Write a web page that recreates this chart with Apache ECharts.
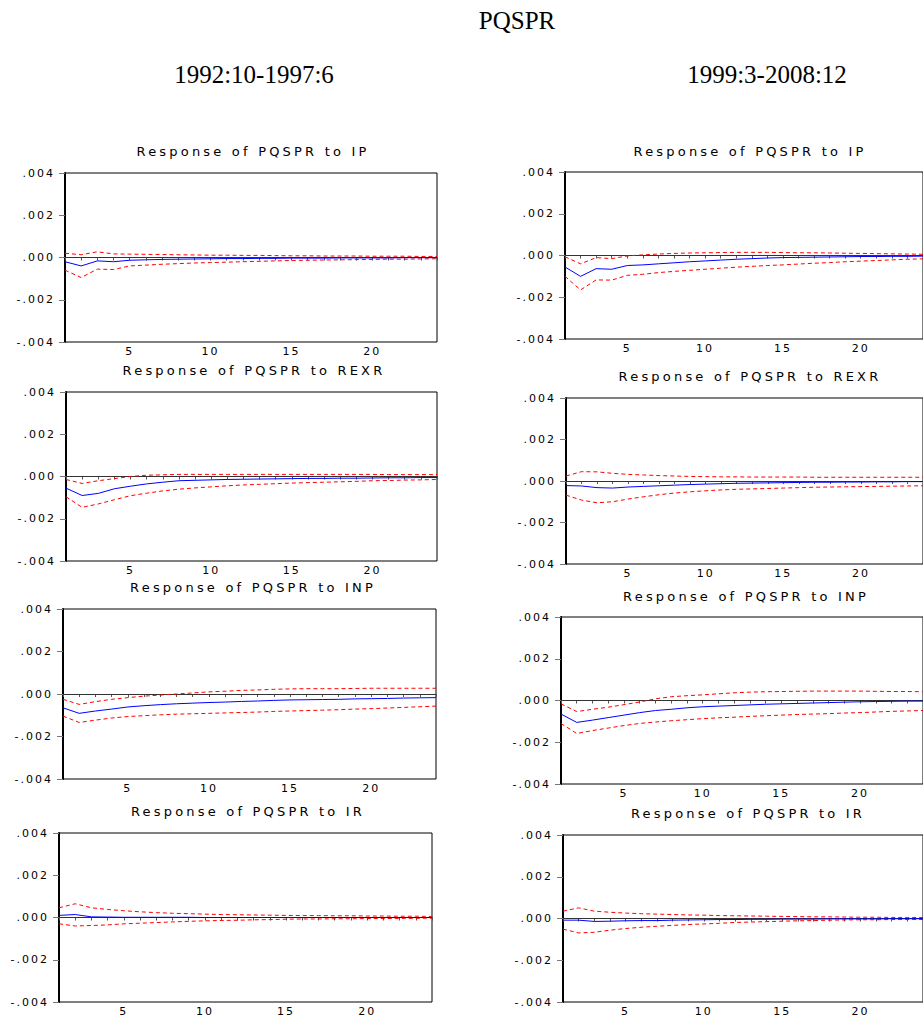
<!DOCTYPE html>
<html><head><meta charset="utf-8">
<script src="https://cdn.jsdelivr.net/npm/echarts@6/dist/echarts.min.js"></script>
<style>
html,body{margin:0;padding:0;background:#fff;overflow:hidden;}
#chart{width:923px;height:1017px;}
#chart text{letter-spacing:2px;}
#chart text[style*="13px"]{letter-spacing:3.2px;}
#chart text[style*="25px"]{letter-spacing:0;}
</style></head><body><div id="chart"></div>
<script>
// ---- data ----
const periods = ['1','2','3','4','5','6','7','8','9','10','11','12','13','14','15','16','17','18','19','20','21','22','23','24'];
const yTicks = [-0.004, -0.002, 0, 0.002, 0.004];
const mainTitle = 'PQSPR';
const sampleLabels = ['1992:10-1997:6', '1999:3-2008:12'];
const panelTitles = ['Response of PQSPR to IP','Response of PQSPR to IP','Response of PQSPR to REXR','Response of PQSPR to REXR','Response of PQSPR to INP','Response of PQSPR to INP','Response of PQSPR to IR','Response of PQSPR to IR'];

// 1992:10-1997:6, IP
const respIP_A = [-0.00020,-0.00040,-0.00016,-0.00020,-0.00013,-0.00011,-0.00009,-0.00008,-0.00007,-0.00006,-0.00005,-0.00005,-0.00004,-0.00004,-0.00003,-0.00003,-0.00003,-0.00002,-0.00002,-0.00002,-0.00002,-0.00001,-0.00001,-0.00001];
const upIP_A = [0.00020,0.00013,0.00027,0.00017,0.00016,0.00015,0.00014,0.00013,0.00012,0.00011,0.00011,0.00010,0.00010,0.00009,0.00008,0.00008,0.00007,0.00007,0.00007,0.00006,0.00006,0.00006,0.00005,0.00005];
const loIP_A = [-0.00060,-0.00095,-0.00055,-0.00057,-0.00040,-0.00036,-0.00032,-0.00029,-0.00026,-0.00024,-0.00022,-0.00020,-0.00018,-0.00016,-0.00014,-0.00013,-0.00012,-0.00011,-0.00010,-0.00009,-0.00008,-0.00008,-0.00007,-0.00006];
// 1999:3-2008:12, IP
const respIP_B = [-0.00055,-0.00100,-0.00063,-0.00066,-0.00048,-0.00045,-0.00040,-0.00035,-0.00030,-0.00026,-0.00022,-0.00018,-0.00015,-0.00012,-0.00010,-0.00009,-0.00008,-0.00007,-0.00006,-0.00005,-0.00005,-0.00004,-0.00004,-0.00003];
const upIP_B = [-0.00006,-0.00040,-0.00010,-0.00015,-0.00002,0.00003,0.00007,0.00010,0.00012,0.00013,0.00014,0.00015,0.00015,0.00015,0.00014,0.00013,0.00013,0.00012,0.00011,0.00010,0.00009,0.00008,0.00007,0.00006];
const loIP_B = [-0.00100,-0.00165,-0.00117,-0.00118,-0.00095,-0.00090,-0.00082,-0.00076,-0.00071,-0.00066,-0.00061,-0.00056,-0.00052,-0.00048,-0.00045,-0.00041,-0.00037,-0.00034,-0.00030,-0.00027,-0.00024,-0.00021,-0.00018,-0.00016];
// REXR
const respREXR_A = [-0.00055,-0.00090,-0.00080,-0.00058,-0.00046,-0.00035,-0.00027,-0.00020,-0.00018,-0.00016,-0.00014,-0.00013,-0.00012,-0.00011,-0.00010,-0.00009,-0.00009,-0.00008,-0.00008,-0.00007,-0.00006,-0.00006,-0.00005,-0.00005];
const upREXR_A = [-0.00014,-0.00033,-0.00020,-0.00010,0.00000,0.00006,0.00008,0.00010,0.00010,0.00010,0.00010,0.00010,0.00010,0.00010,0.00010,0.00010,0.00010,0.00010,0.00010,0.00010,0.00009,0.00009,0.00009,0.00009];
const loREXR_A = [-0.00096,-0.00146,-0.00130,-0.00110,-0.00091,-0.00079,-0.00068,-0.00060,-0.00054,-0.00049,-0.00044,-0.00040,-0.00037,-0.00034,-0.00031,-0.00029,-0.00027,-0.00025,-0.00023,-0.00020,-0.00019,-0.00017,-0.00016,-0.00014];
const respREXR_B = [-0.00022,-0.00024,-0.00032,-0.00034,-0.00029,-0.00026,-0.00023,-0.00020,-0.00017,-0.00015,-0.00013,-0.00011,-0.00010,-0.00009,-0.00008,-0.00007,-0.00006,-0.00006,-0.00005,-0.00005,-0.00004,-0.00004,-0.00003,-0.00003];
const upREXR_B = [0.00024,0.00045,0.00044,0.00037,0.00032,0.00029,0.00026,0.00024,0.00022,0.00021,0.00020,0.00020,0.00019,0.00019,0.00019,0.00019,0.00018,0.00018,0.00018,0.00018,0.00018,0.00018,0.00018,0.00018];
const loREXR_B = [-0.00068,-0.00092,-0.00105,-0.00100,-0.00087,-0.00076,-0.00066,-0.00058,-0.00052,-0.00047,-0.00043,-0.00040,-0.00038,-0.00036,-0.00034,-0.00032,-0.00030,-0.00029,-0.00028,-0.00027,-0.00026,-0.00025,-0.00024,-0.00023];
// INP
const respINP_A = [-0.00065,-0.00091,-0.00080,-0.00071,-0.00061,-0.00055,-0.00050,-0.00046,-0.00043,-0.00040,-0.00038,-0.00035,-0.00033,-0.00030,-0.00028,-0.00027,-0.00026,-0.00025,-0.00023,-0.00022,-0.00021,-0.00019,-0.00018,-0.00017];
const upINP_A = [-0.00025,-0.00049,-0.00036,-0.00025,-0.00017,-0.00010,-0.00005,0.00000,0.00005,0.00010,0.00013,0.00017,0.00019,0.00022,0.00024,0.00025,0.00025,0.00025,0.00026,0.00027,0.00027,0.00027,0.00027,0.00027];
const loINP_A = [-0.00104,-0.00134,-0.00123,-0.00113,-0.00106,-0.00102,-0.00098,-0.00095,-0.00093,-0.00091,-0.00089,-0.00087,-0.00085,-0.00082,-0.00080,-0.00078,-0.00076,-0.00074,-0.00071,-0.00069,-0.00066,-0.00063,-0.00060,-0.00057];
const respINP_B = [-0.00065,-0.00105,-0.00094,-0.00082,-0.00070,-0.00058,-0.00048,-0.00042,-0.00035,-0.00030,-0.00027,-0.00024,-0.00021,-0.00018,-0.00016,-0.00014,-0.00012,-0.00010,-0.00008,-0.00006,-0.00005,-0.00004,-0.00003,-0.00003];
const upINP_B = [-0.00016,-0.00053,-0.00042,-0.00032,-0.00020,-0.00007,0.00008,0.00018,0.00023,0.00027,0.00032,0.00037,0.00040,0.00042,0.00043,0.00044,0.00045,0.00045,0.00045,0.00045,0.00044,0.00043,0.00043,0.00042];
const loINP_B = [-0.00110,-0.00158,-0.00144,-0.00132,-0.00120,-0.00110,-0.00103,-0.00097,-0.00092,-0.00087,-0.00083,-0.00080,-0.00076,-0.00073,-0.00070,-0.00067,-0.00065,-0.00063,-0.00060,-0.00058,-0.00055,-0.00052,-0.00050,-0.00048];
// IR
const respIR_A = [0.00010,0.00014,0.00003,0.00002,0.00001,0.00001,0.00001,0.00001,0.00001,0.00000,0.00000,0.00000,0.00000,0.00000,0.00000,0.00000,0.00000,0.00000,0.00000,0.00000,0.00000,0.00000,0.00000,0.00000];
const upIR_A = [0.00046,0.00065,0.00046,0.00038,0.00032,0.00027,0.00023,0.00020,0.00018,0.00016,0.00014,0.00013,0.00012,0.00011,0.00010,0.00009,0.00009,0.00008,0.00008,0.00007,0.00007,0.00006,0.00006,0.00005];
const loIR_A = [-0.00030,-0.00040,-0.00038,-0.00035,-0.00030,-0.00027,-0.00024,-0.00021,-0.00018,-0.00016,-0.00014,-0.00013,-0.00011,-0.00010,-0.00008,-0.00007,-0.00007,-0.00006,-0.00006,-0.00005,-0.00005,-0.00004,-0.00004,-0.00003];
const respIR_B = [-0.00008,-0.00008,-0.00014,-0.00013,-0.00011,-0.00010,-0.00010,-0.00008,-0.00007,-0.00006,-0.00005,-0.00005,-0.00004,-0.00004,-0.00003,-0.00003,-0.00003,-0.00002,-0.00002,-0.00002,-0.00002,-0.00001,-0.00001,-0.00001];
const upIR_B = [0.00035,0.00051,0.00035,0.00030,0.00026,0.00023,0.00021,0.00019,0.00017,0.00016,0.00014,0.00013,0.00012,0.00011,0.00010,0.00009,0.00008,0.00008,0.00007,0.00006,0.00006,0.00005,0.00005,0.00005];
const loIR_B = [-0.00051,-0.00069,-0.00066,-0.00056,-0.00048,-0.00042,-0.00037,-0.00033,-0.00029,-0.00026,-0.00023,-0.00019,-0.00017,-0.00015,-0.00013,-0.00011,-0.00010,-0.00008,-0.00007,-0.00006,-0.00006,-0.00005,-0.00005,-0.00005];

// ---- layout ----
const panelData = [
  [respIP_A, upIP_A, loIP_A], [respIP_B, upIP_B, loIP_B],
  [respREXR_A, upREXR_A, loREXR_A], [respREXR_B, upREXR_B, loREXR_B],
  [respINP_A, upINP_A, loINP_A], [respINP_B, upINP_B, loINP_B],
  [respIR_A, upIR_A, loIR_A], [respIR_B, upIR_B, loIR_B]
];
const grids = [
  {left:65, top:173, width:372, height:169}, {left:565, top:172, width:362, height:167},
  {left:66, top:392, width:371, height:169}, {left:566, top:398, width:362, height:166},
  {left:63, top:609, width:373, height:170}, {left:561, top:617, width:366, height:167},
  {left:59, top:833, width:373, height:169}, {left:563, top:835, width:364, height:167}
];
const titlePos = [[253,151],[750,151],[254,370],[750,376],[253,587],[746,596],[248,811],[748,813]];

const fmtY = v => { const s = (Math.abs(v) < 1e-9 ? 0 : v).toFixed(3); return s.replace('0.', '.'); };

const graphic = [
  {type:'text', x:517, y:20, style:{text:mainTitle, font:'25px "Liberation Serif"', fill:'#000', textAlign:'center', textVerticalAlign:'middle'}},
  {type:'text', x:254, y:74, style:{text:sampleLabels[0], font:'25px "Liberation Serif"', fill:'#000', textAlign:'center', textVerticalAlign:'middle'}},
  {type:'text', x:767, y:74, style:{text:sampleLabels[1], font:'25px "Liberation Serif"', fill:'#000', textAlign:'center', textVerticalAlign:'middle'}}
];
panelTitles.forEach((t, i) => {
  graphic.push({type:'text', x:titlePos[i][0], y:titlePos[i][1], style:{text:t, font:'13px "DejaVu Sans"', fill:'#000', textAlign:'center', textVerticalAlign:'middle'}});
});

const xAxis = [], yAxis = [], series = [];
grids.forEach((g, i) => {
  xAxis.push({
    type:'category', gridIndex:i, data:periods, boundaryGap:false,
    axisLine:{lineStyle:{color:'#000', width:1}},
    axisTick:{show:true, interval:0, length:3, lineStyle:{color:'#555'}},
    axisLabel:{interval:(idx, val) => Number(val) % 5 === 0, fontSize:11, fontFamily:'DejaVu Sans', color:'#000', margin:4},
    splitLine:{show:false}
  });
  yAxis.push({
    type:'value', gridIndex:i, min:yTicks[0], max:yTicks[yTicks.length-1], interval:yTicks[1]-yTicks[0],
    axisLine:{show:true, lineStyle:{color:'#000', width:2}},
    axisTick:{show:true, length:6, lineStyle:{color:'#777'}},
    axisLabel:{formatter:fmtY, fontSize:11, fontFamily:'DejaVu Sans', color:'#000', margin:10},
    splitLine:{show:false}
  });
  const [r, u, l] = panelData[i];
  series.push({
    type:'line', xAxisIndex:i, yAxisIndex:i, data:r, showSymbol:false, symbol:'none',
    lineStyle:{color:'#0000ff', width:1}, z:3,
    markLine:{silent:true, symbol:['none','none'], label:{show:false}, data:[{yAxis:0}],
      lineStyle:{color:'#333', width:1, type:'solid'}, z:1}
  });
  series.push({type:'line', xAxisIndex:i, yAxisIndex:i, data:u, showSymbol:false, symbol:'none',
    lineStyle:{color:'#ff0000', width:1, type:[4,3]}, z:2});
  series.push({type:'line', xAxisIndex:i, yAxisIndex:i, data:l, showSymbol:false, symbol:'none',
    lineStyle:{color:'#ff0000', width:1, type:[4,3]}, z:2});
});

const chart = echarts.init(document.getElementById('chart'), null, {renderer:'svg', width:923, height:1017});
chart.setOption({
  animation:false,
  backgroundColor:'#fff',
  grid: grids.map(g => Object.assign({show:true, borderColor:'#000', borderWidth:1, backgroundColor:'transparent'}, g)),
  xAxis, yAxis, series, graphic
});
</script></body></html>
